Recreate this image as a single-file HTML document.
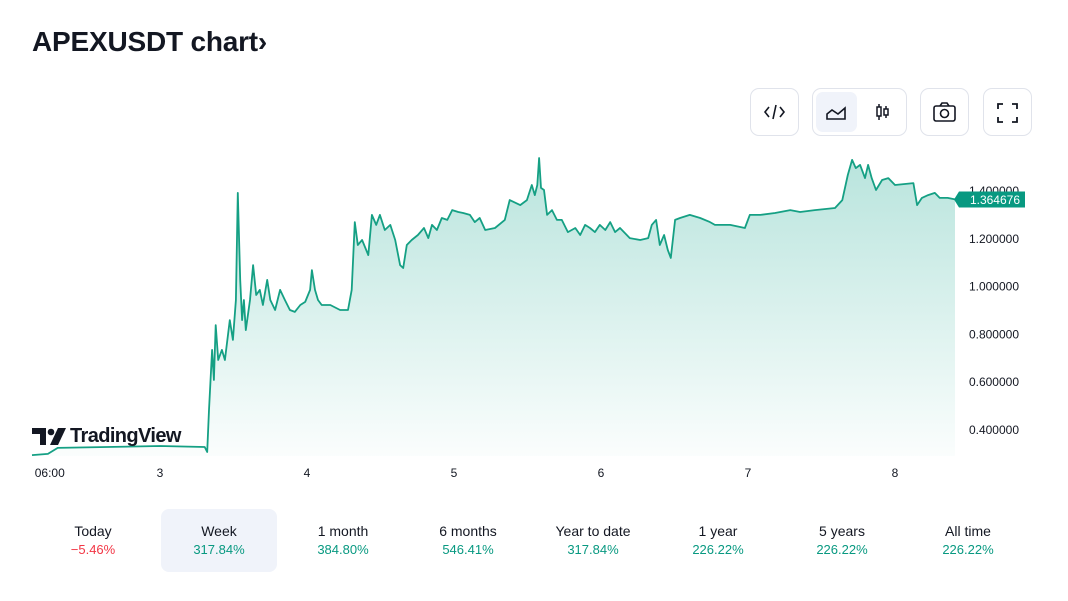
<!DOCTYPE html>
<html><head><meta charset="utf-8"><style>
body{margin:0;width:1068px;height:601px;background:#fff;font-family:"Liberation Sans",sans-serif;position:relative;overflow:hidden;color:#131722}
.title{position:absolute;left:32px;top:26px;font-size:28px;font-weight:bold;letter-spacing:-0.2px}
.btn{position:absolute;top:88px;height:48px;border:1px solid #e0e3eb;border-radius:9px;box-sizing:border-box;background:#fff}
.tab{position:absolute;top:509px;width:116px;height:63px;border-radius:8px;text-align:center;font-size:14px}
.tab .l{margin-top:14px;color:#131722}
.tab .v{margin-top:3px;font-size:13px;color:#089981}
</style></head><body>
<div class="title">APEXUSDT chart›</div>
<div class="btn" style="left:750px;width:49px">
<svg width="47" height="46"><path d="M18 18l-4 5 4 5M29 18l4 5-4 5M25 16l-3 14" stroke="#131722" stroke-width="1.6" fill="none"/></svg></div>
<div class="btn" style="left:812px;width:95px">
<div style="position:absolute;left:3px;top:3px;width:41px;height:40px;background:#f0f3fa;border-radius:7px">
<svg width="41" height="40"><path d="M11 27v-5l5-4 6 4 7-6v11z" stroke="#131722" stroke-width="1.6" fill="none"/></svg></div>
<div style="position:absolute;left:50px;top:3px;width:41px;height:40px">
<svg width="41" height="40"><path d="M16 12v16M23 14v12" stroke="#131722" stroke-width="1.5"/><rect x="14" y="15" width="4" height="9" fill="#fff" stroke="#131722" stroke-width="1.5"/><rect x="21" y="17" width="4" height="6" fill="#fff" stroke="#131722" stroke-width="1.5"/></svg></div></div>
<div class="btn" style="left:920px;width:49px">
<svg width="47" height="46"><rect x="13" y="17" width="21" height="15" rx="2" stroke="#131722" stroke-width="1.6" fill="none"/><path d="M19 17l2-3h5l2 3" stroke="#131722" stroke-width="1.6" fill="none"/><circle cx="23.5" cy="24.5" r="4" stroke="#131722" stroke-width="1.6" fill="none"/></svg></div>
<div class="btn" style="left:983px;width:49px">
<svg width="47" height="46"><path d="M14 20v-5h5M28 15h5v5M33 28v5h-5M19 33h-5v-5" stroke="#131722" stroke-width="1.8" fill="none"/></svg></div>

<svg id="chart" width="1068" height="500" style="position:absolute;left:0;top:0">
<defs><linearGradient id="g" x1="0" y1="0" x2="0" y2="1"><stop offset="0" stop-color="#22ab94" stop-opacity="0.32"/><stop offset="1" stop-color="#22ab94" stop-opacity="0.02"/></linearGradient></defs>
</svg>
<div style="position:absolute;left:32px;top:426px;height:22px;width:160px">
<svg width="36" height="20" style="position:absolute;left:0;top:1px"><path d="M0 1h14v17h-6v-11h-8z" fill="#131722"/><circle cx="19" cy="5" r="3.3" fill="#131722"/><path d="M26 1h8l-8 17h-8z" fill="#131722"/></svg>
<span style="position:absolute;left:38px;top:-1px;font-size:20px;font-weight:bold;letter-spacing:-0.6px;color:#131722">TradingView</span></div>

<div class="tab" style="left:35px"><div class="l">Today</div><div class="v" style="color:#f23645">−5.46%</div></div>
<div class="tab" style="left:161px;background:#f0f3fa"><div class="l">Week</div><div class="v">317.84%</div></div>
<div class="tab" style="left:285px"><div class="l">1 month</div><div class="v">384.80%</div></div>
<div class="tab" style="left:410px"><div class="l">6 months</div><div class="v">546.41%</div></div>
<div class="tab" style="left:535px"><div class="l">Year to date</div><div class="v">317.84%</div></div>
<div class="tab" style="left:660px"><div class="l">1 year</div><div class="v">226.22%</div></div>
<div class="tab" style="left:784px"><div class="l">5 years</div><div class="v">226.22%</div></div>
<div class="tab" style="left:910px"><div class="l">All time</div><div class="v">226.22%</div></div>

<script>
const hours=[3.1,5.7,7.3,24,31.3,31.7,32.0,32.5,32.8,33.1,33.5,34.1,34.6,35.4,35.9,36.4,36.7,37.1,37.4,37.7,38.0,38.7,39.2,39.7,40.3,40.8,41.5,42.0,42.8,43.6,44.4,45.2,46.0,46.9,47.7,48.5,48.8,49.3,49.8,50.4,51.8,53.4,54.7,55.3,55.8,56.3,57.0,58.0,58.6,59.3,59.9,60.7,61.6,62.4,63.2,63.7,64.3,65.1,66.1,67.1,67.8,68.4,69.2,70.0,70.9,71.7,72.7,73.5,74.6,75.4,76.2,77.1,78.7,80.3,81.1,82.8,83.9,84.7,85.2,85.6,85.9,86.2,86.7,87.2,88.0,88.8,89.6,90.6,91.8,92.6,93.4,94.2,95.0,95.8,96.7,97.5,98.3,99.1,100.7,102.4,103.7,104.3,105.0,105.6,106.3,106.9,107.4,108.1,108.9,110.5,112.2,113.8,114.6,117.1,119.5,120.3,122.0,124.4,126.9,128.5,130.9,134.2,135.4,136.3,137.0,137.6,138.3,139.1,139.6,140.2,140.9,141.9,142.9,144.0,147.0,147.6,148.4,149.4,150.5,151.3,152.6,153.8];
const prices=[0.295,0.300,0.325,0.333,0.329,0.308,0.484,0.735,0.609,0.839,0.693,0.735,0.693,0.860,0.777,0.944,1.392,1.028,0.860,0.944,0.818,0.944,1.090,0.965,0.986,0.923,1.028,0.944,0.902,0.986,0.944,0.902,0.894,0.923,0.936,0.986,1.069,0.986,0.944,0.923,0.923,0.902,0.902,0.986,1.270,1.174,1.195,1.132,1.300,1.258,1.300,1.237,1.258,1.195,1.090,1.078,1.174,1.195,1.216,1.245,1.203,1.258,1.237,1.287,1.279,1.320,1.312,1.308,1.300,1.270,1.287,1.237,1.245,1.279,1.362,1.341,1.362,1.425,1.383,1.425,1.538,1.413,1.404,1.300,1.320,1.279,1.279,1.228,1.245,1.216,1.258,1.245,1.228,1.258,1.237,1.270,1.228,1.245,1.203,1.195,1.203,1.258,1.279,1.174,1.216,1.153,1.120,1.279,1.287,1.300,1.287,1.270,1.258,1.258,1.245,1.300,1.300,1.308,1.320,1.312,1.320,1.329,1.362,1.467,1.530,1.496,1.509,1.454,1.509,1.454,1.404,1.446,1.454,1.425,1.433,1.341,1.371,1.383,1.392,1.371,1.371,1.364676];
const yTicks=[1.4,1.2,1.0,0.8,0.6,0.4];
const xTickLabels=["06:00","3","4","5","6","7","8"];
const xTickHours=[6,24,48,72,96,120,144];
const lastPrice="1.364676";
const NS="http://www.w3.org/2000/svg";
const svg=document.getElementById('chart');
const X=t=>160+(t-24)*147/24;
const Y=v=>430-(v-0.4)*239;
const baseY=456;
function mk(tag,attrs){const e=document.createElementNS(NS,tag);for(const k in attrs)e.setAttribute(k,attrs[k]);return e;}
let d='';hours.forEach((t,i)=>{d+=(i?'L':'M')+X(t).toFixed(1)+' '+Y(prices[i]).toFixed(1);});
const area=mk('path',{d:d+`L${X(hours[hours.length-1])} ${baseY}L${X(hours[0])} ${baseY}Z`,fill:'url(#g)'});


svg.appendChild(area);
const line=mk('path',{d:d,fill:'none',stroke:'#15a084','stroke-width':1.8,'stroke-linejoin':'round'});


svg.appendChild(line);
yTicks.forEach(v=>{const t=mk('text',{x:1019,y:Y(v)+4,'text-anchor':'end','font-size':12,fill:'#131722','font-family':'Liberation Sans'});t.textContent=v.toFixed(6);


svg.appendChild(t);});
xTickLabels.forEach((s,i)=>{const t=mk('text',{x:X(xTickHours[i]),y:477,'text-anchor':'middle','font-size':12,fill:'#131722','font-family':'Liberation Sans'});t.textContent=s;


svg.appendChild(t);});
const py=Y(prices[prices.length-1]);
const tag=mk('g',{});


tag.appendChild(mk('path',{d:`M954 ${py}L959 ${py-8}H1025V${py+8}H959Z`,fill:'#089981'}));
const tt=mk('text',{x:1020,y:py+4.5,'text-anchor':'end','font-size':12,fill:'#fff','font-family':'Liberation Sans'});tt.textContent=lastPrice;tag.appendChild(tt);
svg.appendChild(tag);
</script>
</body></html>
